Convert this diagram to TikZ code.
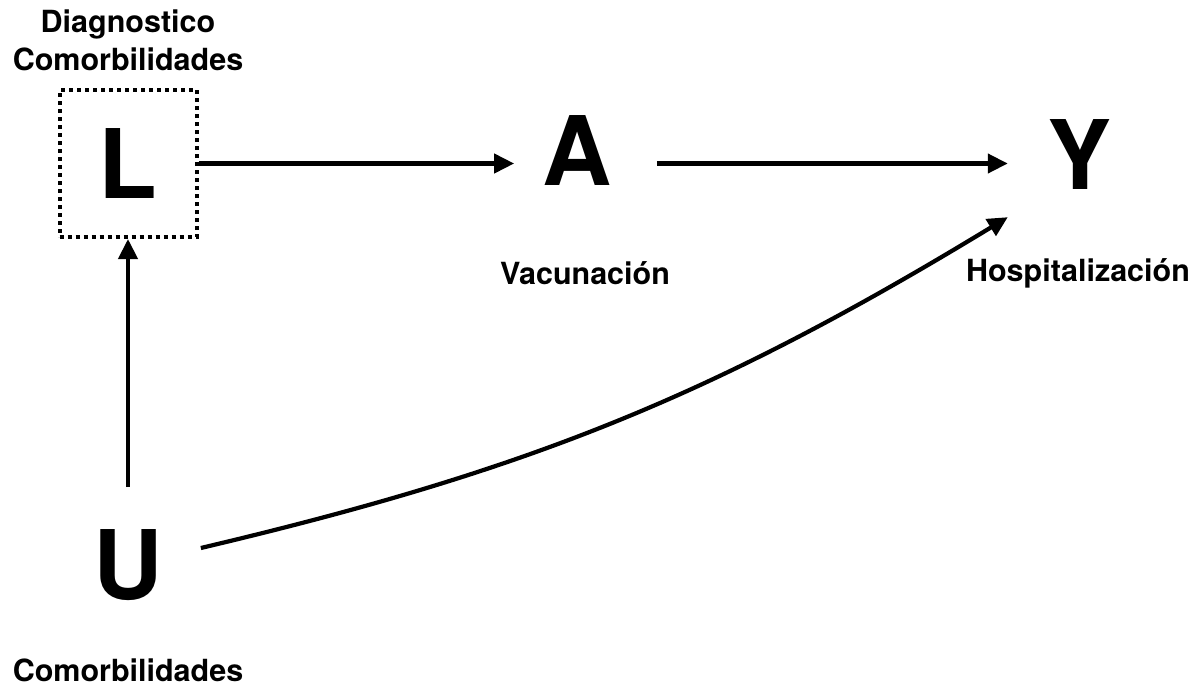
\documentclass[tikz,border=0pt]{standalone}
\usepackage{fontspec}
\setmainfont{TeX Gyre Heros}
\usetikzlibrary{arrows.meta}
\begin{document}
\begin{tikzpicture}[x=1pt,y=-1pt,
  letter/.style={font=\bfseries\fontsize{96}{96}\selectfont, inner sep=0pt},
  lab/.style={font=\bfseries\fontsize{30.5}{38}\selectfont, inner sep=0pt, align=center},
  arr/.style={line width=4.2pt, -{Triangle[length=20pt,width=19pt]}}]
\useasboundingbox (0,0) rectangle (1192,686);
% nodes
\node[letter, draw, dash pattern=on 4pt off 4pt, line width=4pt,
      minimum width=137pt, minimum height=147pt] (L) at (128,163.5) {L};
\node[letter] (A) at (577,151) {A};
\node[letter] (Y) at (1080,155) {Y};
\node[letter] (U) at (128,565) {U};
% labels
\node[lab] (lL) at (128,40) {Diagnostico\\Comorbilidades};
\node[lab] (lA) at (585,273) {Vacunación};
\node[lab] (lY) at (1078,273) {Hospitalización};
\node[lab] (lU) at (128,670) {Comorbilidades};
% edges
\draw[arr, shorten >=28pt] (L.east) -- (L.east -| A.west);
\draw[arr, shorten <=45pt, shorten >=40pt] (A.east |- L.east) -- (Y.west |- L.east);
\draw[arr, shorten <=42pt] (U.north) -- (L.south);
\draw[arr] ([xshift=38pt,yshift=17pt]U.east) to[bend right=9] ([xshift=-40pt,yshift=-27pt]Y.south west);
\end{tikzpicture}
\end{document}
